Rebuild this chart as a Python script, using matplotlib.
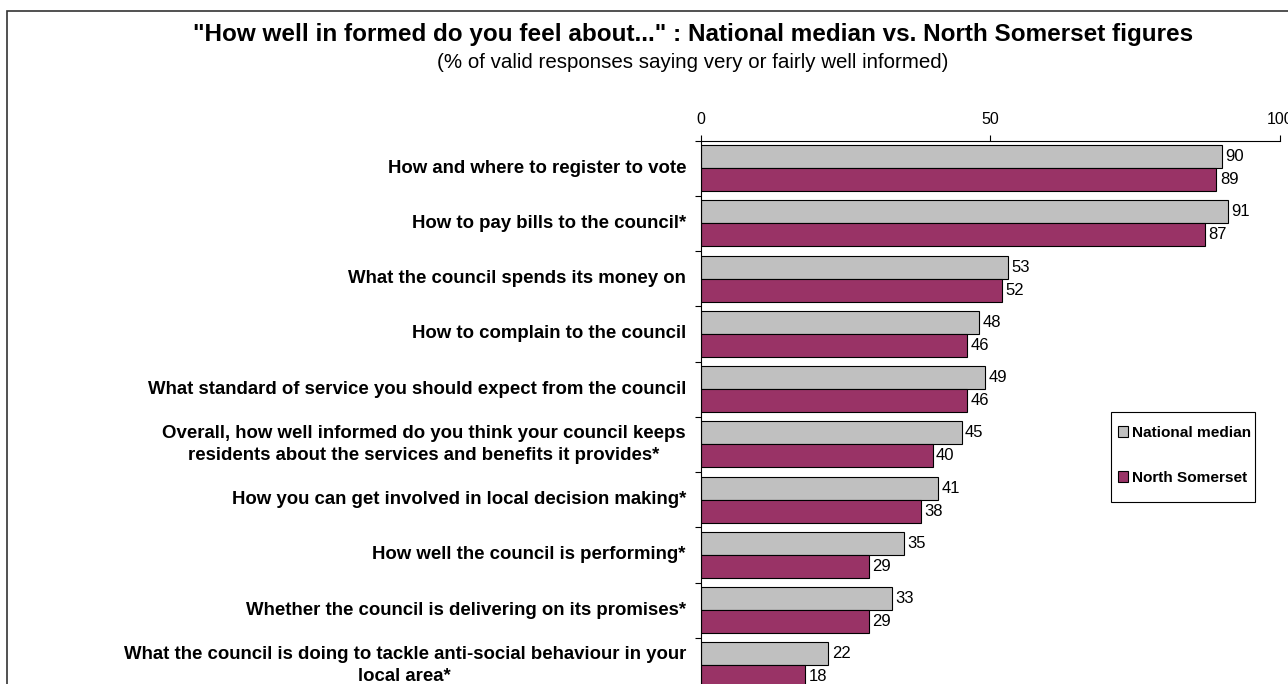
import numpy as np
import matplotlib.pyplot as plt
from matplotlib.patches import Rectangle

plt.rcParams['font.family'] = ['Liberation Sans', 'DejaVu Sans']

categories = [
    'How and where to register to vote',
    'How to pay bills to the council*',
    'What the council spends its money on',
    'How to complain to the council',
    'What standard of service you should expect from the council',
    'Overall, how well informed do you think your council keeps\nresidents about the services and benefits it provides*',
    'How you can get involved in local decision making*',
    'How well the council is performing*',
    'Whether the council is delivering on its promises*',
    'What the council is doing to tackle anti-social behaviour in your\nlocal area*',
]
national_median = [90, 91, 53, 48, 49, 45, 41, 35, 33, 22]
north_somerset = [89, 87, 52, 46, 46, 40, 38, 29, 29, 18]
series_names = ['National median', 'North Somerset']
colors = ['#C0C0C0', '#993366']

W, H = 1288, 684
fig = plt.figure(figsize=(W / 100, H / 100), dpi=100)

# outer chart frame (runs off the right and bottom edges)
fig.patches.append(Rectangle((7 / W, -0.1), 1.2, 1 - 11 / H + 0.1,
                             transform=fig.transFigure, fill=False,
                             edgecolor='#333333', linewidth=1.2))

ax_top, ax_bot = 140.5, 693
ax = fig.add_axes([701 / W, 1 - ax_bot / H, 579 / W, (ax_bot - ax_top) / H])

y = np.arange(len(categories))
h = 0.415
b1 = ax.barh(y - h / 2, national_median, h, color=colors[0], edgecolor='black',
             linewidth=0.8, label=series_names[0])
b2 = ax.barh(y + h / 2, north_somerset, h, color=colors[1], edgecolor='black',
             linewidth=0.8, label=series_names[1])

for bars in (b1, b2):
    for rect in bars:
        ax.annotate('{}'.format(int(rect.get_width())),
                    xy=(rect.get_width(), rect.get_y() + rect.get_height() / 2),
                    xytext=(2.5, 0), textcoords='offset points',
                    ha='left', va='center', fontsize=12)

ax.set_xlim(0, 100)
ax.set_ylim(len(categories) - 0.5, -0.5)
ax.xaxis.tick_top()
ax.set_xticks([0, 50, 100])
ax.tick_params(axis='x', length=4, width=0.8, pad=6, labelsize=11.5)

# category names drawn beside the axis at each group centre
ax.set_yticks([])
for i, name in enumerate(categories):
    ax.annotate(name, xy=(0, i), xycoords=('axes fraction', 'data'),
                xytext=(-15, 0), textcoords='offset pixels',
                ha='right', va='center', multialignment='center',
                linespacing=1.4, fontsize=13.4, fontweight='bold',
                annotation_clip=False)
ax.set_yticks(np.arange(len(categories) + 1) - 0.5, minor=True)
ax.tick_params(axis='y', which='minor', length=4, width=0.8)

for side in ['right', 'bottom']:
    ax.spines[side].set_visible(False)
for side in ['left', 'top']:
    ax.spines[side].set_linewidth(0.8)

# legend entries without their own frame; the box is drawn separately
leg = ax.legend(loc='upper left', bbox_to_anchor=(1117.5 / W, 1 - 426 / H),
                bbox_transform=fig.transFigure, frameon=False,
                handlelength=0.65, handleheight=0.65, handletextpad=0.28,
                labelspacing=2.0, borderpad=0, borderaxespad=0,
                prop={'weight': 'bold', 'size': 11.1})
fig.patches.append(Rectangle((1111 / W, 1 - 502 / H), 144 / W, 90 / H,
                             transform=fig.transFigure, fill=False,
                             edgecolor='black', linewidth=0.8))

fig.text(693 / W, 1 - 35 / H,
         '"How well in formed do you feel about..." : National median vs. North Somerset figures',
         ha='center', va='center', fontsize=17.5, fontweight='bold')
fig.text(693 / W, 1 - 63 / H,
         '(% of valid responses saying very or fairly well informed)',
         ha='center', va='center', fontsize=14.8)

plt.savefig('out.png', dpi=100)
